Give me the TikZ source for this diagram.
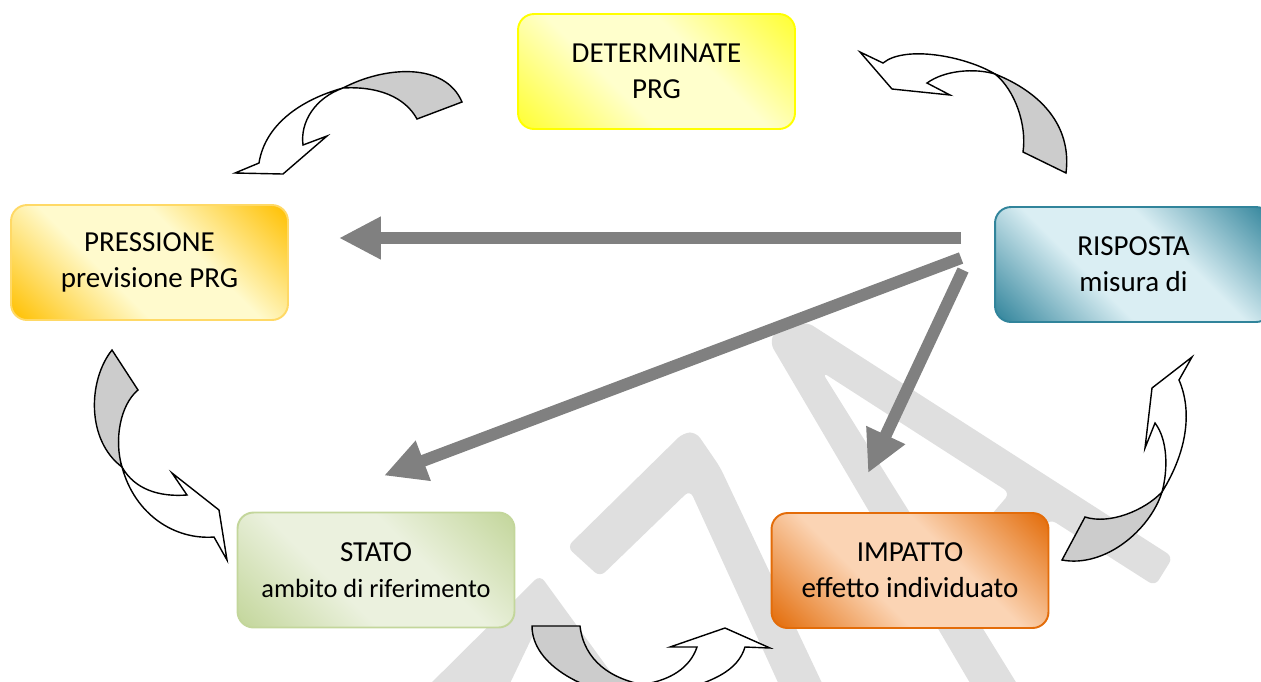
\documentclass[tikz,border=0pt]{standalone}
\usepackage{fontspec}
\setmainfont{Carlito}
\usepackage{tikz}
\usetikzlibrary{arrows.meta,calc}

\definecolor{wmgray}{HTML}{DFDFDF}
\definecolor{arrgray}{HTML}{808080}
\definecolor{backgray}{HTML}{CCCCCC}
\definecolor{detline}{HTML}{FFFF00}
\definecolor{detdark}{HTML}{FFFF33}
\definecolor{detlight}{HTML}{FFFFCC}
\definecolor{preline}{HTML}{FFD966}
\definecolor{predark}{HTML}{FFC000}
\definecolor{prelight}{HTML}{FFFACD}
\definecolor{risline}{HTML}{31849B}
\definecolor{rislight}{HTML}{DAEEF3}
\definecolor{staline}{HTML}{C3D69B}
\definecolor{stalight}{HTML}{EBF1DE}
\definecolor{impline}{HTML}{E36C09}
\definecolor{implight}{HTML}{FBD4B4}

\pgfdeclareverticalshading{detshade}{100bp}{color(0bp)=(detdark); color(15bp)=(detdark);
  color(40bp)=(detlight); color(60bp)=(detlight); color(85bp)=(detdark); color(100bp)=(detdark)}
\pgfdeclareverticalshading{preshade}{100bp}{color(0bp)=(predark); color(15bp)=(predark);
  color(40bp)=(prelight); color(60bp)=(prelight); color(85bp)=(predark); color(100bp)=(predark)}
\pgfdeclareverticalshading{risshade}{100bp}{color(0bp)=(risline); color(15bp)=(risline);
  color(40bp)=(rislight); color(60bp)=(rislight); color(85bp)=(risline); color(100bp)=(risline)}
\pgfdeclareverticalshading{stashade}{100bp}{color(0bp)=(staline); color(15bp)=(staline);
  color(40bp)=(stalight); color(60bp)=(stalight); color(85bp)=(staline); color(100bp)=(staline)}
\pgfdeclareverticalshading{impshade}{100bp}{color(0bp)=(impline); color(15bp)=(impline);
  color(40bp)=(implight); color(60bp)=(implight); color(85bp)=(impline); color(100bp)=(impline)}

\tikzset{
  box/.style n args={2}{draw=#1, shading=#2, shading angle=-45,
    line width=1.1pt, rounded corners=0.32cm,
    minimum width=5.54cm, minimum height=2.3cm, align=center,
    font=\fontsize{16.5}{20.5}\selectfont},
  bigarrow/.style={draw=arrgray, line width=0.24cm, -{Triangle[length=0.84cm,width=0.8cm]}},
  backpart/.style={draw=black, line width=0.8pt, fill=backgray},
  frontpart/.style={draw=black, line width=0.8pt, fill=white},
  wmark/.style={fill=wmgray, even odd rule, rounded corners=4pt}
}

\begin{document}
\begin{tikzpicture}[x=0.02cm,y=-0.02cm]
  \clip (0,0) rectangle (1261,681);

  \fill[wmark] (980,700) -- (770,343) -- (775,331) -- (807,322) -- (1173,557) -- (1155,586)
    -- (1050,519) -- (972,611) -- (1027,700) -- cycle
    (822,372) -- (1010,493) -- (945,569) -- cycle;
  \fill[wmark] (683,433) -- (567,547) -- (600,577) -- (690,490) -- (786,700) -- (830,700)
    -- (720,467) -- (696,432) -- cycle;
  \fill[wmark] (540,575) -- (414,700) -- (502,700) -- (536,629) -- (588,700) -- (631,700) -- cycle;

  \node[box={detline}{detshade}] (determinate) at (656.5,71.5) {DETERMINATE\\PRG};
  \node[box={preline}{preshade}] (pressione) at (149.5,262.5) {PRESSIONE\\previsione PRG};
  \node[box={risline}{risshade}] (risposta) at (1133.5,264.5) {RISPOSTA\\misura di};
  \node[box={staline}{stashade}] (stato) at (376,570) {STATO\\{\fontsize{15}{18}\selectfont ambito di riferimento}};
  \node[box={impline}{impshade}] (impatto) at (910,570.5) {IMPATTO\\effetto individuato};

  \draw[bigarrow] ($(risposta.west)+(-33,-26.5)$) -- ($(pressione.east)+(50,-24.5)$);
  \draw[bigarrow] ($(risposta.west)+(-33,-6.5)$) -- ($(stato.north)+(8,-36)$);
  \draw[bigarrow] ($(risposta.west)+(-31,5.5)$) -- ($(impatto.north)+(-42,-39)$);

  \draw[backpart] (343,88) .. controls (385,66) and (445,62) .. (462,102) -- (417,119)
    .. controls (405,97) and (378,86) .. (343,88) -- cycle;
  \draw[frontpart] (343,88) .. controls (300,100) and (265,125) .. (259,163) -- (235,173)
    -- (283,174) -- (327,136) -- (303,145) .. controls (300,122) and (315,98) .. (343,88) -- cycle;

  \draw[backpart] (995,74) .. controls (1040,92) and (1072,125) .. (1066,173) -- (1023,152)
    .. controls (1027,125) and (1015,90) .. (995,74) -- cycle;
  \draw[frontpart] (995,74) .. controls (965,56) and (905,45) .. (883,63) -- (860,52)
    -- (892,89) -- (950,95) -- (927,83) .. controls (945,70) and (975,68) .. (995,74) -- cycle;

  \draw[backpart] (112,350) -- (138,390) .. controls (120,405) and (114,440) .. (122,467)
    .. controls (86,440) and (88,380) .. (112,350) -- cycle;
  \draw[frontpart] (122,467) .. controls (135,490) and (160,497) .. (187,495) -- (172,473)
    -- (219,510) -- (227,560) -- (214,537) .. controls (175,540) and (135,515) .. (122,467) -- cycle;

  \draw[backpart] (1062,560) -- (1085,517) .. controls (1110,525) and (1145,510) .. (1162,492)
    .. controls (1150,530) and (1105,568) .. (1062,560) -- cycle;
  \draw[frontpart] (1162,492) .. controls (1188,450) and (1192,410) .. (1179,380) -- (1192,357)
    -- (1152,388) -- (1145,448) -- (1155,423) .. controls (1168,440) and (1168,470) .. (1162,492) -- cycle;

  \draw[backpart] (532,626) -- (580,626) .. controls (584,660) and (610,680) .. (650,686)
    -- (650,700) .. controls (585,695) and (532,665) .. (532,626) -- cycle;
  \draw[frontpart] (697,647) -- (670,647) -- (725,628) -- (770,648) -- (745,647)
    .. controls (738,670) and (715,683) .. (660,695) -- (645,684)
    .. controls (670,680) and (690,668) .. (697,647) -- cycle;
\end{tikzpicture}
\end{document}
